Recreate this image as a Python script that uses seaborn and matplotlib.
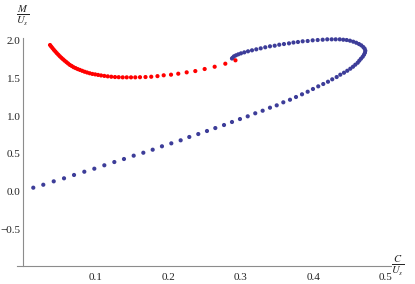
import numpy as np
import pandas as pd
import matplotlib
matplotlib.use("Agg")
import matplotlib.pyplot as plt
from matplotlib.ticker import MultipleLocator, FixedLocator
import seaborn as sns

# blue branch (C/Us, M/Us)
blue_x = [0.0139, 0.0277, 0.0421, 0.0563, 0.0701, 0.0843, 0.0981, 0.1119, 0.1257, 0.1390,
          0.1524, 0.1657, 0.1786, 0.1914, 0.2043, 0.2172, 0.2291, 0.2415, 0.2535, 0.2650,
          0.2770, 0.2880, 0.2990, 0.3097, 0.3201, 0.3303, 0.3404, 0.3497, 0.3588, 0.3680,
          0.3763, 0.3846, 0.3924, 0.3997, 0.4070, 0.4139, 0.4204, 0.4263, 0.4324, 0.4374,
          0.4425, 0.4470, 0.4512, 0.4549, 0.4581, 0.4614, 0.4636, 0.4659, 0.4683, 0.4701,
          0.4714, 0.4719, 0.4710, 0.4691, 0.4663, 0.4632, 0.4594, 0.4553, 0.4508, 0.4462,
          0.4415, 0.4366, 0.4310, 0.4255, 0.4194, 0.4131, 0.4062, 0.3993, 0.3924, 0.3855,
          0.3790, 0.3728, 0.3666, 0.3597, 0.3532, 0.3469, 0.3404, 0.3339, 0.3276, 0.3215,
          0.3156, 0.3101, 0.3050, 0.3004, 0.2967, 0.2935, 0.2908, 0.2890, 0.2880]
blue_y = [0.053, 0.092, 0.137, 0.177, 0.221, 0.264, 0.304, 0.349, 0.392, 0.432,
          0.476, 0.515, 0.555, 0.600, 0.639, 0.679, 0.723, 0.762, 0.802, 0.841,
          0.881, 0.921, 0.960, 0.996, 1.036, 1.070, 1.110, 1.141, 1.181, 1.215,
          1.251, 1.287, 1.321, 1.357, 1.392, 1.423, 1.453, 1.485, 1.515, 1.546,
          1.572, 1.598, 1.625, 1.651, 1.678, 1.704, 1.731, 1.757, 1.783, 1.810,
          1.836, 1.863, 1.889, 1.911, 1.934, 1.951, 1.968, 1.982, 1.995, 2.004,
          2.008, 2.013, 2.013, 2.013, 2.013, 2.008, 2.004, 2.000, 1.991, 1.987,
          1.978, 1.971, 1.960, 1.951, 1.942, 1.929, 1.921, 1.908, 1.894, 1.881,
          1.868, 1.855, 1.841, 1.828, 1.815, 1.802, 1.789, 1.770, 1.760]

# red branch
red_x = [0.0370, 0.0386, 0.0404, 0.0423, 0.0443, 0.0463, 0.0484, 0.0505, 0.0527, 0.0549,
         0.0572, 0.0596, 0.0619, 0.0644, 0.0669, 0.0695, 0.0723, 0.0752, 0.0782, 0.0814,
         0.0847, 0.0881, 0.0917, 0.0954, 0.0993, 0.1033, 0.1074, 0.1119, 0.1166, 0.1215,
         0.1266, 0.1317, 0.1372, 0.1428, 0.1487, 0.1546, 0.1611, 0.1687, 0.1766, 0.1852,
         0.1938, 0.2039, 0.2139, 0.2255, 0.2374, 0.2503, 0.2641, 0.2788, 0.2928]
red_y = [1.938, 1.918, 1.897, 1.874, 1.853, 1.831, 1.810, 1.789, 1.769, 1.750,
         1.731, 1.712, 1.694, 1.675, 1.661, 1.645, 1.633, 1.620, 1.609, 1.597,
         1.585, 1.575, 1.565, 1.556, 1.550, 1.543, 1.536, 1.530, 1.524, 1.519,
         1.515, 1.513, 1.511, 1.511, 1.511, 1.511, 1.513, 1.515, 1.519, 1.527,
         1.538, 1.546, 1.559, 1.577, 1.594, 1.621, 1.651, 1.691, 1.736]

x_ticks = [0.1, 0.2, 0.3, 0.4, 0.5]
y_ticks = [-0.5, 0.0, 0.5, 1.0, 1.5, 2.0]

df = pd.concat([
    pd.DataFrame({"C": blue_x, "M": blue_y, "branch": "blue"}),
    pd.DataFrame({"C": red_x, "M": red_y, "branch": "red"}),
])

sns.set_style("white")
plt.rcParams["font.family"] = ["Liberation Serif", "DejaVu Serif"]
plt.rcParams["mathtext.fontset"] = "stix"

fig = plt.figure(figsize=(4.15, 2.84), dpi=100)
ax = fig.add_axes([0.0402, 0.063, 0.9031, 0.803])

sns.scatterplot(data=df, x="C", y="M", hue="branch",
                palette={"blue": "#3d3d99", "red": "#ff0000"},
                s=9, linewidth=0, legend=False, ax=ax, clip_on=False)

ax.set_xlim(-0.009, 0.508)
ax.set_ylim(-0.983, 2.03)

for side in ["top", "right"]:
    ax.spines[side].set_visible(False)
ax.spines["left"].set_position(("data", 0))
for side in ["left", "bottom"]:
    ax.spines[side].set_color("#8c8c8c")
    ax.spines[side].set_linewidth(0.8)

ax.xaxis.set_major_locator(FixedLocator(x_ticks))
ax.xaxis.set_minor_locator(MultipleLocator(0.02))
ax.yaxis.set_major_locator(FixedLocator(y_ticks))
ax.yaxis.set_minor_locator(MultipleLocator(0.1))
ax.set_xticklabels([f"{v:.1f}" for v in x_ticks])
ax.set_yticklabels([f"{v:.1f}".replace("-", "\u2212") for v in y_ticks])
ax.tick_params(which="both", direction="in", color="#8c8c8c", width=0.6,
               labelsize=8, labelcolor="#222222")
ax.tick_params(axis="x", pad=5)
ax.tick_params(axis="y", pad=2)
ax.tick_params(which="major", length=4)
ax.tick_params(which="minor", length=2.2)

ax.set_xlabel("")
ax.set_ylabel("")
fig.text(23 / 415, 1 - 16 / 284, r"$\frac{M}{U_s}$", ha="center", va="center", fontsize=11)
fig.text(398 / 415, 1 - 266 / 284, r"$\frac{C}{U_s}$", ha="center", va="center", fontsize=11)

fig.savefig("out.png", dpi=100)
